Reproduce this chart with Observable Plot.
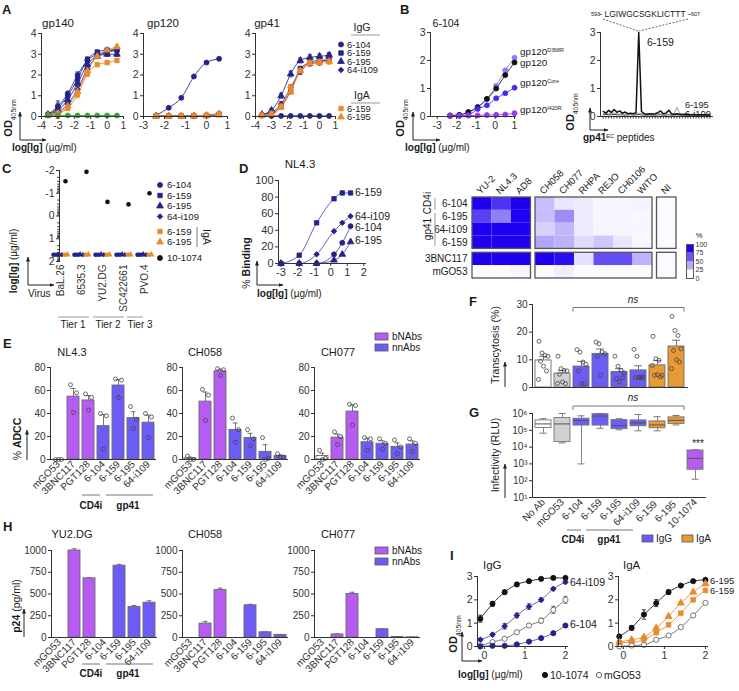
<!DOCTYPE html>
<html><head><meta charset="utf-8">
<script src="https://cdn.jsdelivr.net/npm/d3@7"></script>
<script src="https://cdn.jsdelivr.net/npm/@observablehq/plot@0.6"></script>
<style>
body{margin:0;background:#fff;}
#root{position:relative;width:739px;height:691px;overflow:hidden;background:#fff;font-family:"Liberation Sans",Arial,sans-serif;}
#root svg{overflow:visible;}
</style></head><body><div id="root"></div>
<script>
const FONT='"Liberation Sans", Arial, Helvetica, sans-serif';
const NAVY="#23238c", ORANGE="#ea8a2c", GREEN="#3f9d3f", PURPLE="#b65cf3", BLUE="#6c5cf6", LGRAY="#d0d0d0", AX="#333", TXT="#1a1a1a";
const root=document.getElementById("root");
const fmt=d=>String(d);

// ================= DATA =================
// Panel A (ELISA, OD405nm vs log[Ig])
const A_x = [-3.6,-3.0,-2.4,-1.8,-1.2,-0.6,0,0.6];
const A_x120 = [-2.4,-1.8,-1.2,-0.6,0,0.6];
const A_mAbs = ["6-104","6-159","6-195","64-i109","6-159","6-195"];
const A_gp140 = [
 [0.10,0.50,1.10,2.00,2.70,3.00,3.10,3.20],
 [0.10,0.40,1.00,1.80,2.75,3.10,3.20,3.20],
 [0.10,0.30,0.80,1.60,2.50,2.90,3.00,3.00],
 [0.05,0.20,0.60,1.30,2.30,2.90,3.10,3.30],
 [0.05,0.15,0.40,1.05,2.05,2.50,2.60,2.70],
 [0.05,0.15,0.50,1.20,2.20,2.90,3.20,3.35],
 [0.05,0.05,0.05,0.05,0.05,0.05,0.05,0.05]];
const A_gp140_err = [0.05,0.25,0.12,0.15,0.12,0.10,0.10,0.10];
const A_gp120 = [
 [0.05,0.42,0.90,1.93,2.60,2.78],
 [0.02,0.02,0.03,0.03,0.05,0.10],
 [0.02,0.02,0.02,0.03,0.04,0.08],
 [0.02,0.02,0.03,0.04,0.06,0.15],
 [0.02,0.02,0.02,0.03,0.05,0.12],
 [0.02,0.02,0.02,0.03,0.05,0.10]];
const A_gp41 = [
 [0.05,0.03,0.03,0.03,0.03,0.03,0.03,0.03],
 [0.05,0.15,0.50,1.25,2.30,2.60,2.70,2.70],
 [0.10,0.30,1.00,2.05,2.70,2.85,2.90,2.95],
 [0.10,0.20,0.60,1.40,2.15,2.55,2.60,2.95],
 [0.05,0.15,0.50,1.40,2.20,2.60,2.65,2.65],
 [0.05,0.10,0.45,1.20,2.20,2.55,2.60,2.65]];
const A_gp41_err = [0.05,0.08,0.12,0.14,0.12,0.12,0.12,0.12];

// Panel B
const B_x = [-2.34,-1.86,-1.39,-0.91,-0.43,0.05,0.52,1.0];
const B_antigens = ["gp120 D368R","gp120","gp120 Core","gp120 I420R"];
const B_OD = [
 [0.03,0.05,0.15,0.35,0.62,1.10,1.65,2.10],
 [0.04,0.06,0.16,0.33,0.63,1.00,1.48,1.93],
 [0.02,0.03,0.05,0.27,0.40,0.65,0.83,1.03],
 [0.02,0.02,0.03,0.04,0.05,0.06,0.07,0.12]];
const PEP_6159 = [0.18,0.12,0.22,0.14,0.25,0.15,0.20,0.12,0.16,0.10,0.12,0.10,0.14,3.00,0.18,0.10,0.08,0.10,0.09,0.10,0.14,0.20,0.10,0.12,0.22,0.10,0.08,0.10,0.08,0.07,0.08,0.07,0.06,0.07,0.06,0.06,0.06,0.06,0.05,0.05];
const PEP_6195 = [0.10,0.12,0.10,0.10,0.12,0.10,0.08,0.10,0.08,0.08,0.09,0.10,0.10,0.12,0.10,0.08,0.08,0.08,0.08,0.09,0.10,0.10,0.08,0.08,0.08,0.08,0.12,0.32,0.12,0.08,0.08,0.08,0.07,0.07,0.07,0.07,0.07,0.07,0.07,0.07];
const PEP_6i109 = [0.06,0.07,0.06,0.06,0.07,0.06,0.06,0.06,0.05,0.06,0.06,0.05,0.06,0.07,0.06,0.05,0.05,0.06,0.05,0.05,0.06,0.06,0.05,0.05,0.06,0.05,0.05,0.06,0.05,0.05,0.05,0.05,0.05,0.05,0.05,0.05,0.05,0.05,0.05,0.05];

// Panel C (IC50, log µg/ml)
const C_virus = ["BaL.26","6535.3","YU2.DG","SC422661","PVO.4"];
const C_IC50 = [
 [1.7,1.7,1.7,1.7,1.7],[1.7,1.7,1.7,1.7,1.7],[1.7,1.7,1.7,1.7,1.7],
 [1.7,1.7,1.7,1.7,1.7],[1.7,1.7,1.7,1.7,1.7],[1.7,1.7,1.7,1.7,1.7]];
const C_10_1074 = [-1.53,-1.94,-0.62,-0.51,-1.0];

// Panel D
const D_x = [-3.0,-1.9,-0.85,0.2,0.7,1.2];
const D_mAbs = ["6-159","64-i109","6-104","6-195"];
const D_binding = [
 [0,10,49,78,85,85],
 [0,0,11,39,49,57],
 [0,0,0,11,25,45],
 [0,0,0,4,11,26]];
const HM_cols = ["YU-2","NL4.3","AD8","CH058","CH077","RHPA","REJO","CH0106","WITO","NI"];
const HM_colGroup = [0,0,0,1,1,1,1,1,1,2];
const HM_rows = ["6-104","6-195","64-i109","6-159","3BNC117","mGO53"];
const HM_rowGroup = [0,0,0,0,1,1];
const HM_vals = [
 [100,80,100,25,10,8,3,3,5,2],
 [75,50,100,25,45,8,3,3,3,2],
 [100,100,100,18,28,8,4,4,3,2],
 [100,100,100,35,30,14,22,10,3,2],
 [100,100,100,100,95,12,70,70,30,2],
 [2,2,4,2,7,2,2,2,2,2]];

// Panel E (% ADCC, 3 replicates)
const E_ab = ["mGO53","3BNC117","PGT128","6-104","6-159","6-195","64-i109"];
const E_type = ["ctrl","bNAb","bNAb","nnAb","nnAb","nnAb","nnAb"];
const E_NL43 = [[0,0,0],[65,58,41],[57,54,43],[40,38,9],[70,69,54],[46,35,27],[40,37,19]];
const E_CH058 = [[3,0,0],[61,56,34],[79,78,73],[36,26,15],[26,18,12],[19,1,0],[5,2,2]];
const E_CH077 = [[8,1,0],[24,20,13],[48,47,30],[19,18,8],[18,14,9],[17,11,5],[18,14,7]];

// Panel H (p24 pg/ml, mean and error)
const H_YU2 = [0,1000,680,0,825,350,400];
const H_YU2_err = [0,20,6,0,15,18,22];
const H_CH058 = [0,160,545,0,370,60,30];
const H_CH058_err = [0,25,22,0,12,5,4];
const H_CH077 = [0,35,500,0,95,6,2];
const H_CH077_err = [0,8,20,0,6,2,1];

// Panel F (transcytosis %) and G (infectivity, log10 RLU box stats)
const FG_cats = ["No Ab","mGO53","6-104","6-159","6-195","64-i109","6-159 ","6-195 ","10-1074"];
const FG_iso = ["none","ctrl","IgG","IgG","IgG","IgG","IgA","IgA","bNAb"];
const F_pts = [
 [16.7,12.5,11.6,11.3,9.5,7.7,6.0,2.9],
 [11.3,6.8,6.2,6.0,4.8,2.0,1.4,1.5],
 [13.7,12.8,9.2,8.4,6.0,1.4,1.4],
 [16.4,15.8,12.8,12.2,11.3,4.4],
 [11.3,7.7,6.2,5.3,3.2,2.0,3.5],
 [13.8,11.3,3.8,3.8,3.6,3.6,3.4],
 [18.5,10.4,9.8,4.4,4.4,4.6,3.8,8.0],
 [25.7,20.6,18.8,14.0,13.4,10.0,9.2,6.8]];
const G_box = [ // [min, q1, median, q3, max] in log10 RLU
 [4.83,5.14,5.38,5.59,5.69],
 [4.25,4.30,5.38,5.73,6.00],
 [3.00,5.28,5.59,5.69,5.86],
 [5.12,5.28,5.85,5.96,6.00],
 [5.03,5.07,5.28,5.61,5.69],
 [4.97,5.24,5.44,5.59,5.94],
 [4.97,5.12,5.32,5.53,5.81],
 [5.32,5.38,5.59,5.77,5.88],
 [2.09,2.65,3.33,3.80,3.84]];

// Panel I
const I_x = [-0.1,0.2,0.5,0.8,1.1,1.4,1.7,2.0];
const I_IgG_names = ["10-1074","64-i109","mGO53","6-104"];
const I_IgG = [
 [1.19,1.83,2.33,2.66,2.80,2.90,2.94,2.94],
 [0.29,0.51,0.87,1.33,1.71,2.00,2.47,2.76],
 [0.04,0.19,0.33,0.61,0.90,1.11,1.57,2.00],
 [0.00,0.03,0.03,0.09,0.21,0.36,0.57,0.90]];
const I_IgG_err = [
 [0.15,0.10,0.08,0.05,0.04,0.04,0.04,0.04],
 [0.05,0.06,0.12,0.10,0.12,0.08,0.06,0.05],
 [0.03,0.03,0.05,0.05,0.06,0.10,0.15,0.15],
 [0.02,0.02,0.02,0.02,0.03,0.03,0.04,0.04]];
const I_IgA_names = ["10-1074","6-195","6-159","mGO53"];
const I_IgA = [
 [0.43,0.80,1.37,1.86,2.33,2.61,2.80,2.86],
 [0.19,0.29,0.40,0.79,1.29,1.86,2.33,2.69],
 [0.17,0.17,0.30,0.59,0.93,1.43,2.00,2.40],
 [0.00,0.04,0.07,0.29,0.47,0.83,1.33,1.87]];
const I_IgA_err = [
 [0.08,0.10,0.20,0.15,0.10,0.05,0.05,0.05],
 [0.04,0.05,0.05,0.06,0.06,0.06,0.06,0.06],
 [0.04,0.04,0.04,0.05,0.05,0.06,0.06,0.06],
 [0.03,0.03,0.03,0.03,0.04,0.05,0.05,0.05]];

// ================= HELPERS =================
const FILL = {none:"#ffffff", ctrl:"#ffffff", bNAb:PURPLE, nnAb:BLUE, IgG:BLUE, IgA:"#e89a35"};
const FG_fill = {none:"#ffffff", ctrl:LGRAY, IgG:BLUE, IgA:"#e89a35", bNAb:PURPLE};
const CAP = {draw(ctx,size){const w=Math.sqrt(size)/1.7; ctx.moveTo(-w,0); ctx.lineTo(w,0);}};

function mk(b,o){
  const ml=b.ml??24, mr=b.mr??6, mt=b.mt??6, mb=b.mb??18;
  const p=Plot.plot(Object.assign({
    width:ml+(b.x1-b.x0)+mr, height:mt+(b.y1-b.y0)+mb,
    marginLeft:ml, marginRight:mr, marginTop:mt, marginBottom:mb,
    style:{fontFamily:FONT,fontSize:"10px",background:"transparent",overflow:"visible",color:TXT}
  },o));
  p.style.position="absolute"; p.style.left=(b.x0-ml)+"px"; p.style.top=(b.y0-mt)+"px";
  root.appendChild(p); return p;
}
function ax(o={}){
  const fs=o.fs??10, m=[];
  if(o.y!==false) m.push(Plot.axisY({ticks:o.yt, tickFormat:o.yf??fmt, tickSize:o.ys??3, tickPadding:2, label:null, fontSize:fs, color:AX}));
  if(o.x!==false) m.push(Plot.axisX({ticks:o.xt, tickFormat:o.xf??fmt, tickSize:o.xs??3, tickPadding:o.xpad??2, label:null, tickRotate:o.xrot??0, fontSize:fs, color:AX}));
  if(o.fl!==false) m.push(Plot.frame({anchor:"left", stroke:AX}));
  if(o.fb!==false) m.push(Plot.frame({anchor:"bottom", stroke:AX}));
  return m;
}
function curvePanel(c){
  const recs=[];
  c.rows.forEach((vals,i)=>vals.forEach((v,j)=>{
    const e = c.errs ? (Array.isArray(c.errs[0]) ? c.errs[i][j] : c.errs[j]) : 0;
    recs.push({x:c.xs[j], y:v, k:i, c:c.colors[i], lc:(c.lineColors||c.colors)[i], f:(c.fills||c.colors)[i], s:c.syms[i], e});
  }));
  const eb=recs.filter(d=>d.e>0.03 && d.y>0.08);
  return mk(c.box,{
    x:{domain:c.xdom}, y:{domain:c.ydom},
    marks:[
      Plot.line(recs,{x:"x",y:"y",z:"k",stroke:"lc",strokeWidth:1,strokeOpacity:0.85,curve:"monotone-x"}),
      Plot.ruleX(eb,{x:"x",y1:d=>d.y-d.e,y2:d=>d.y+d.e,stroke:"c",strokeWidth:0.8}),
      Plot.dot(eb,{x:"x",y:d=>d.y+d.e,symbol:CAP,stroke:"c",r:2,strokeWidth:0.8}),
      Plot.dot(eb,{x:"x",y:d=>d.y-d.e,symbol:CAP,stroke:"c",r:2,strokeWidth:0.8}),
      Plot.dot(recs,{x:"x",y:"y",symbol:"s",fill:"f",stroke:"c",r:c.r??2.5,strokeWidth:0.8}),
      ...ax({xt:c.xt, yt:c.yt, fs:c.fs??10.5})
    ]});
}
function barPanel(c){
  const recs=c.names.map((k,i)=>({k,
    m: c.means ? c.means[i] : d3.mean(c.pts[i]),
    e: c.errs ? c.errs[i] : d3.deviation(c.pts[i])/Math.sqrt(c.pts[i].length),
    f: c.fillMap[c.types[i]]}));
  const prec = c.pts ? c.pts.flatMap((a,i)=>a.map((v,r)=>({k:c.names[i],v,r}))) : [];
  const nrep = c.pts ? d3.max(c.pts,a=>a.length) : 0;
  const eb=recs.filter(d=>d.e>0);
  const showX = c.xaxis!==false;
  return mk(c.box,{
    x:{domain:c.domain||c.names, paddingInner:c.pi??0.2, paddingOuter:0.1, axis: showX ? undefined : null},
    y:{domain:c.ydom},
    marks:[
      Plot.ruleX(eb,{x:"k",y1:"m",y2:d=>d.m+d.e,stroke:"#666",strokeWidth:0.9}),
      Plot.tickY(eb,{x:"k",y:d=>d.m+d.e,stroke:"#666",strokeWidth:0.9,inset:c.capInset??3.5}),
      Plot.barY(recs,{x:"k",y:"m",fill:"f",stroke:"#6a6a6a",strokeWidth:0.9}),
      ...d3.range(nrep).map(r=>Plot.dot(prec.filter(p=>p.r===r),{x:"k",y:"v",dx:c.dxs[r],r:2,stroke:"#444",strokeWidth:0.8,fill:"none"})),
      ...ax({yt:c.yt, fs:c.fs??10, xrot:c.xrot??-45, xs:0, xpad:3, x:showX})
    ]});
}

// ================= PANEL A =================
const A_colors=[NAVY,NAVY,NAVY,NAVY,ORANGE,ORANGE,GREEN];
const A_syms=["circle","square","triangle","diamond2","square","triangle","circle"];
curvePanel({box:{x0:41,x1:123,y0:33,y1:116}, xs:A_x, rows:A_gp140, errs:A_gp140_err, colors:A_colors, syms:A_syms, xdom:[-4,1], ydom:[0,4], xt:[-4,-3,-2,-1,0,1], yt:[0,1,2,3,4]});
curvePanel({box:{x0:143,x1:227,y0:33,y1:116}, xs:A_x120, rows:A_gp120, colors:A_colors, syms:A_syms, xdom:[-3,1], ydom:[0,4], xt:[-3,-2,-1,0,1], yt:[0,1,2,3,4]});
curvePanel({box:{x0:255,x1:335,y0:33,y1:116}, xs:A_x, rows:A_gp41, errs:A_gp41_err, colors:A_colors, syms:A_syms, xdom:[-4,1], ydom:[0,4], xt:[-4,-3,-2,-1,0,1], yt:[0,1,2,3,4]});

// ================= PANEL B =================
const B_colors=["#8a7dff","#111111","#3b2df2","#9a34f0"];
curvePanel({box:{x0:430,x1:515,y0:32,y1:116}, xs:B_x, rows:B_OD, colors:B_colors, syms:["circle","circle","circle","circle"], xdom:[-3.35,1.05], ydom:[0,3], xt:[-3,-2,-1,0,1], yt:[0,1,2,3]});
{
  const idx=d3.range(1,PEP_6159.length+1);
  const rec=(arr,k)=>arr.map((v,i)=>({x:idx[i],y:v,k}));
  mk({x0:600,x1:712,y0:32,y1:116},{
    x:{domain:[0,41]}, y:{domain:[0,3]},
    marks:[
      Plot.line(rec(PEP_6i109,"6-i109"),{x:"x",y:"y",stroke:"#333",strokeWidth:1}),
      Plot.line(rec(PEP_6195,"6-195"),{x:"x",y:"y",stroke:"#9a9a9a",strokeWidth:1}),
      Plot.line(rec(PEP_6159,"6-159"),{x:"x",y:"y",stroke:"#111",strokeWidth:1.5}),
      Plot.axisY({ticks:[0,1,2,3],tickFormat:fmt,tickSize:3,tickPadding:2,label:null,fontSize:10.5,color:AX}),
      Plot.axisX({ticks:idx,tickSize:2.5,tickFormat:()=>"",label:null,color:AX}),
      Plot.frame({anchor:"left",stroke:AX}), Plot.frame({anchor:"bottom",stroke:AX})
    ]});
}

// ================= PANEL C =================
{
  const CDX=[-7,-4.2,-1.4,1.4,4.2,7];
  const minor=d3.range(-2,2).flatMap(k=>d3.range(2,10).map(m=>k+Math.log10(m)));
  mk({x0:59,x1:145,y0:170,y1:261,mb:60,ml:24},{
    x:{domain:C_virus,padding:0}, y:{domain:[2,-2]},
    marks:[
      ...C_IC50.map((row,i)=>Plot.dot(C_virus,{x:d=>d,y:(d,j)=>row[j],dx:CDX[i],symbol:A_syms[i],fill:A_colors[i],r:2.3})),
      Plot.dot(C_virus,{x:d=>d,y:(d,j)=>C_10_1074[j],dx:5,fill:"#111",r:2.3}),
      Plot.axisY({ticks:[-2,-1,0,1,2],tickFormat:fmt,tickSize:3,tickPadding:2,label:null,fontSize:10.5,color:AX}),
      Plot.axisY({ticks:minor,tickSize:1.8,tickFormat:()=>"",label:null,color:AX}),
      Plot.axisX({tickSize:0,tickPadding:3,tickRotate:-90,label:null,fontSize:10,color:AX}),
      Plot.frame({anchor:"left",stroke:AX})
    ]});
}

// ================= PANEL D =================
curvePanel({box:{x0:278,x1:365,y0:180,y1:263}, xs:D_x, rows:D_binding, colors:[NAVY,NAVY,NAVY,NAVY], lineColors:["#4a4aa8","#4a4aa8","#4a4aa8","#4a4aa8"], syms:["square","diamond2","circle","triangle"], xdom:[-3.15,2.1], ydom:[0,100], xt:[-3,-2,-1,0,1,2], yt:[0,20,40,60,80,100], fs:11});
{
  const cx=j=>j+HM_colGroup[j]*0.23, ry=i=>i+HM_rowGroup[i]*0.3;
  const cells=HM_vals.flatMap((row,i)=>row.map((v,j)=>({x1:cx(j),x2:cx(j)+1,y1:ry(i),y2:ry(i)+1,v})));
  const frames=[];
  for(const rg of [0,1]) for(const cg of [0,1,2]){
    const cs=HM_cols.map((_,j)=>j).filter(j=>HM_colGroup[j]===cg), rs=HM_rows.map((_,i)=>i).filter(i=>HM_rowGroup[i]===rg);
    frames.push({x1:cx(cs[0]),x2:cx(cs[cs.length-1])+1,y1:ry(rs[0]),y2:ry(rs[rs.length-1])+1});
  }
  const color={type:"linear",domain:[0,100],range:["#ffffff","#2000f0"]};
  mk({x0:472,x1:676,y0:197,y1:278,ml:60,mt:45,mb:4,mr:4},{
    x:{domain:[0,10.46],axis:null}, y:{domain:[0,6.3],reverse:true,axis:null}, color,
    marks:[
      Plot.rect(cells,{x1:"x1",x2:"x2",y1:"y1",y2:"y2",fill:"v"}),
      Plot.rect(frames,{x1:"x1",x2:"x2",y1:"y1",y2:"y2",fill:"none",stroke:"#555",strokeWidth:1.3}),
      Plot.text(HM_rows,{x:0,y:(d,i)=>ry(i)+0.5,text:d=>d,textAnchor:"end",dx:-5,fontSize:10,fill:TXT}),
      Plot.text(HM_cols,{x:(d,j)=>cx(j)+0.5,y:0,text:d=>d,rotate:-45,textAnchor:"start",dx:-4,dy:-5,fontSize:9.5,fill:TXT})
    ]});
  const steps=[0,25,50,75];
  mk({x0:686,x1:693,y0:244,y1:278,ml:2,mr:22,mt:2,mb:2},{
    x:{domain:[0,1],axis:null}, y:{domain:[0,100]}, color,
    marks:[
      Plot.rect(steps,{x1:0,x2:1,y1:d=>d,y2:d=>d+25,fill:d=>d*4/3}),
      Plot.axisY({anchor:"right",ticks:[0,25,50,75,100],tickFormat:fmt,tickSize:0,tickPadding:2,fontSize:7,label:null,color:AX}),
      Plot.frame({stroke:"#555"})
    ]});
}

// ================= PANEL E =================
const DX3=[-3,3,0];
[[E_NL43,50],[E_CH058,182],[E_CH077,314]].forEach(([pts,x0])=>
  barPanel({box:{x0,x1:x0+105,y0:367,y1:459,mb:50}, names:E_ab, types:E_type, pts, fillMap:FILL, ydom:[0,80], yt:[0,20,40,60,80], dxs:DX3}));

// ================= PANEL H =================
[[H_YU2,H_YU2_err,51],[H_CH058,H_CH058_err,182],[H_CH077,H_CH077_err,314]].forEach(([means,errs,x0])=>
  barPanel({box:{x0,x1:x0+105,y0:550,y1:637,mb:50}, names:E_ab, types:E_type, means, errs, fillMap:FILL, ydom:[0,1000], yt:[0,250,500,750,1000], dxs:[]}));

// ================= PANEL F =================
barPanel({box:{x0:532,x1:687,y0:304,y1:387,mb:6}, names:FG_cats.slice(0,8), types:FG_iso.slice(0,8), pts:F_pts, fillMap:FG_fill, ydom:[0,30], yt:[0,10,20,30], dxs:[-4.5,-1.5,1.5,4.5,-3,0,3,-5], pi:0.17, capInset:4, xaxis:false, fs:10});

// ================= PANEL G =================
{
  const recs=FG_cats.map((k,i)=>({k,lo:10**G_box[i][0],q1:10**G_box[i][1],med:10**G_box[i][2],q3:10**G_box[i][3],hi:10**G_box[i][4],f:FG_fill[FG_iso[i]]}));
  const supd={"1":"¹","2":"²","3":"³","4":"⁴","5":"⁵","6":"⁶"};
  mk({x0:532,x1:705,y0:413,y1:497,mb:50},{
    x:{domain:FG_cats,paddingInner:0.17,paddingOuter:0.1}, y:{type:"log",domain:[10,1e6]},
    marks:[
      Plot.ruleX(recs,{x:"k",y1:"lo",y2:"hi",stroke:"#777",strokeWidth:0.9}),
      Plot.tickY(recs,{x:"k",y:"lo",stroke:"#777",inset:4.5}),
      Plot.tickY(recs,{x:"k",y:"hi",stroke:"#777",inset:4.5}),
      Plot.barY(recs,{x:"k",y1:"q1",y2:"q3",fill:"f",stroke:"#777",strokeWidth:0.9}),
      Plot.tickY(recs,{x:"k",y:"med",stroke:"#555",strokeWidth:1}),
      Plot.axisY({ticks:[1e1,1e2,1e3,1e4,1e5,1e6],tickFormat:d=>"10"+supd[String(Math.round(Math.log10(d)))],tickSize:3,tickPadding:2,label:null,fontSize:10,color:AX}),
      Plot.axisX({tickSize:0,tickPadding:3,tickRotate:-45,label:null,fontSize:10,color:AX}),
      Plot.frame({anchor:"left",stroke:AX}), Plot.frame({anchor:"bottom",stroke:AX})
    ]});
}

// ================= PANEL I =================
curvePanel({box:{x0:477,x1:567,y0:576,y1:646}, xs:I_x, rows:I_IgG, errs:I_IgG_err, colors:["#111",NAVY,"#555",NAVY], fills:["#111",NAVY,"#fff",NAVY], lineColors:["#111","#4a4aa8","#666","#4a4aa8"], syms:["circle","diamond2","circle","circle"], xdom:[-0.17,2.05], ydom:[0,3], xt:[0,1,2], yt:[0,1,2,3], fs:10.5, r:2.6});
curvePanel({box:{x0:618,x1:707,y0:576,y1:646}, xs:I_x, rows:I_IgA, errs:I_IgA_err, colors:["#111",ORANGE,ORANGE,"#555"], fills:["#111",ORANGE,ORANGE,"#fff"], lineColors:["#111",ORANGE,ORANGE,"#666"], syms:["circle","triangle","square","circle"], xdom:[-0.12,2.05], ydom:[0,3], xt:[0,1,2], yt:[0,1,2,3], fs:10.5, r:2.6});

// ================= ANNOTATIONS =================
const ov=d3.select(root).append("svg").attr("width",739).attr("height",691)
  .style("position","absolute").style("left","0px").style("top","0px").style("pointer-events","none");
ov.append("defs").append("marker").attr("id","ah").attr("viewBox","0 0 10 10").attr("refX",9).attr("refY",5)
  .attr("markerWidth",5).attr("markerHeight",5).attr("orient","auto")
  .append("path").attr("d","M0,1L10,5L0,9z").attr("fill","#222");
function RT(x,y,parts,o={}){
  const size=o.size||10;
  const t=ov.append("text").attr("x",x).attr("y",y).attr("font-family",FONT).attr("font-size",size)
    .attr("fill",o.fill||TXT).attr("text-anchor",o.anchor||"start");
  if(o.rot) t.attr("transform",`rotate(${o.rot},${x},${y})`);
  if(o.b) t.attr("font-weight","bold");
  if(o.i) t.attr("font-style","italic");
  if(typeof parts==="string") parts=[[parts]];
  for(const [s,p={}] of parts){
    const ts=t.append("tspan").text(s);
    if(p.b) ts.attr("font-weight","bold");
    if(p.sub) ts.attr("baseline-shift","sub").attr("font-size",size*0.62);
    if(p.sup) ts.attr("baseline-shift","super").attr("font-size",size*0.55);
  }
  return t;
}
function AR(x1,y1,x2,y2){ov.append("line").attr("x1",x1).attr("y1",y1).attr("x2",x2).attr("y2",y2).attr("stroke","#222").attr("stroke-width",1).attr("marker-end","url(#ah)");}
function LN(x1,y1,x2,y2,o={}){const l=ov.append("line").attr("x1",x1).attr("y1",y1).attr("x2",x2).attr("y2",y2).attr("stroke",o.stroke||"#777").attr("stroke-width",o.w||1); if(o.dash) l.attr("stroke-dasharray",o.dash);}
function SY(x,y,type,fill,stroke,size=20){ov.append("path").attr("d",d3.symbol(type,size)()).attr("transform",`translate(${x},${y})`).attr("fill",fill).attr("stroke",stroke||fill).attr("stroke-width",0.8);}
function BX(x,y,w,h,fill){ov.append("rect").attr("x",x).attr("y",y).attr("width",w).attr("height",h).attr("fill",fill).attr("stroke","#555").attr("stroke-width",0.8);}
function ODlabel(x,y){RT(x,y,[["OD",{b:true}],["405nm",{sub:true}]],{rot:-90,anchor:"middle",size:11});}
function logIg(x,y){RT(x,y,[["log[Ig]",{b:true}],[" (µg/ml)"]],{size:10});}

// panel letters
[["A",2,14],["B",400,14],["C",2,173],["D",239,173],["E",3,348],["F",469,306],["G",469,417],["H",3,531],["I",450,560]]
  .forEach(([s,x,y])=>RT(x,y,s,{b:true,size:13}));

// A
[["gp140",58],["gp120",163],["gp41",267]].forEach(([s,x])=>RT(x,27,s,{anchor:"middle",size:11.5}));
RT(362,31,"IgG",{anchor:"middle",size:10.5}); LN(351,35,380,35,{stroke:"#999"});
A_mAbs.slice(0,4).forEach((s,i)=>{const y=[44.5,53,61.5,70][i]; SY(341,y,[d3.symbolCircle,d3.symbolSquare,d3.symbolTriangle,d3.symbolDiamond2][i],NAVY); RT(347,y+3.3,s,{size:9.3});});
RT(362,99,"IgA",{anchor:"middle",size:10.5}); LN(351,103,380,103,{stroke:"#999"});
A_mAbs.slice(4).forEach((s,i)=>{const y=[108.5,117][i]; SY(341,y,[d3.symbolSquare,d3.symbolTriangle][i],ORANGE); RT(347,y+3.3,s,{size:9.3});});
ODlabel(12,118); AR(20,140,20,112); AR(20,140,46,140); logIg(12,151);

// B
RT(446,27,"6-104",{anchor:"middle",size:10.5});
RT(520,55,[["gp120"],["D368R",{sup:true}]],{size:9.8});
RT(520,66,"gp120",{size:9.8});
RT(520,86,[["gp120"],["Core",{sup:true}]],{size:9.8});
RT(520,113,[["gp120"],["I420R",{sup:true}]],{size:9.8});
ODlabel(404,118); AR(413,140,413,112); AR(413,140,440,140); logIg(405,151);
RT(647,46,"6-159",{size:10.5}); RT(685,108,"6-195",{size:9.3}); RT(685,117,"6-i109",{size:9.3});
RT(591,16,"593",{size:5.5}); RT(645,17,"- LGIWGCSGKLICTTT -",{anchor:"middle",size:8.5}); RT(691,16,"607",{size:5.5});
LN(603,19,638,31,{stroke:"#444",dash:"2,1.5",w:0.8}); LN(688,19,639,31,{stroke:"#444",dash:"2,1.5",w:0.8});
ODlabel(574,112); AR(590,130,590,108); AR(590,130,608,130);
RT(583,141,[["gp41",{b:true}],["EC",{sup:true}],[" peptides"]],{size:10});

// C
const Csy=[d3.symbolCircle,d3.symbolSquare,d3.symbolTriangle,d3.symbolDiamond2,d3.symbolSquare,d3.symbolTriangle];
const Cleg=["6-104","6-159","6-195","64-i109","6-159","6-195"];
[185,195.5,206,216.5,231.5,242].forEach((y,i)=>{SY(160,y,Csy[i],A_colors[i]); RT(167,y+3.4,Cleg[i],{size:9.6});});
SY(160,258,d3.symbolCircle,"#111"); RT(167,261.4,"10-1074",{size:9.6});
LN(197,227,197,247,{stroke:"#777"}); RT(203,237,"IgA",{rot:90,anchor:"middle",size:10.5});
RT(17,261,[["log[Ig]",{b:true}],[" (µg/ml)"]],{rot:-90,anchor:"middle",size:10});
AR(28,285,28,257); AR(28,285,54,285); RT(28,297,"Virus",{size:10});
LN(58,317,89,317,{stroke:"#aaa",w:1.2}); LN(93,317,124,317,{stroke:"#aaa",w:1.2}); LN(127,317,143,317,{stroke:"#aaa",w:1.2});
RT(73,328,"Tier 1",{anchor:"middle"}); RT(108,328,"Tier 2",{anchor:"middle"}); RT(140,328,"Tier 3",{anchor:"middle"});

// D
RT(300,168,"NL4.3",{anchor:"middle",size:11.5});
D_mAbs.forEach((s,i)=>RT(355,[195.5,219.5,230.5,243.5][i],s,{size:10.5}));
RT(250,263,[["% "],["Binding",{b:true}]],{rot:-90,anchor:"middle",size:10.5});
AR(257,285,257,261); AR(257,285,283,285); logIg(257,297);
RT(431,203,"CD4i",{rot:-90,anchor:"middle",size:10}); RT(431,229,"gp41",{rot:-90,anchor:"middle",size:10});
LN(435,198,435,210,{stroke:"#999"}); LN(435,213,435,246,{stroke:"#999"});
RT(699,238,"%",{anchor:"middle",size:7.5});

// E
[["NL4.3",72],["CH058",205],["CH077",338]].forEach(([s,x])=>RT(x,356,s,{anchor:"middle",size:11}));
RT(21,439,[["% "],["ADCC",{b:true}]],{rot:-90,anchor:"middle",size:10.5}); AR(27,460,27,430);
BX(375,333,13,7,PURPLE); RT(392,340,"bNAbs"); BX(375,344,13,7,BLUE); RT(392,351,"nnAbs");
LN(82,495,100,495); LN(106,495,153,495);
RT(91,509,"CD4i",{anchor:"middle",b:true}); RT(128,509,"gp41",{anchor:"middle",b:true});

// H
[["YU2.DG",72],["CH058",205],["CH077",338]].forEach(([s,x])=>RT(x,538,s,{anchor:"middle",size:11}));
RT(20,606,[["p24",{b:true}],[" (pg/ml)"]],{rot:-90,anchor:"middle",size:10.5}); AR(24,637,24,609);
BX(375,547,13,7,PURPLE); RT(392,554,"bNAbs"); BX(375,558,13,7,BLUE); RT(392,565,"nnAbs");
LN(82,664,100,664); LN(106,664,153,664);
RT(91,677,"CD4i",{anchor:"middle",b:true}); RT(128,677,"gp41",{anchor:"middle",b:true});

// F
RT(499,345,"Transcytosis (%)",{rot:-90,anchor:"middle",size:10.5}); AR(505,387,505,362);
LN(573,307.5,684,307.5,{stroke:"#777"}); LN(573,307.5,573,311.5,{stroke:"#777"}); LN(684,307.5,684,311.5,{stroke:"#777"});
RT(633,303,"ns",{anchor:"middle",i:true});

// G
RT(499,455,"Infectivity (RLU)",{rot:-90,anchor:"middle",size:10.5}); AR(505,498,505,464);
LN(573,406,684,406,{stroke:"#777"}); LN(573,406,573,410,{stroke:"#777"}); LN(684,406,684,410,{stroke:"#777"});
RT(633,401,"ns",{anchor:"middle",i:true});
RT(698,447,"***",{anchor:"middle",size:10});
LN(567,530,581,530); LN(586,530,633,530);
RT(573,543,"CD4i",{anchor:"middle",b:true}); RT(609,543,"gp41",{anchor:"middle",b:true});
BX(642,535,11,7,BLUE); RT(656,542,"IgG"); BX(682,535,11,7,"#e89a35"); RT(696,542,"IgA");

// I
RT(483,569,"IgG",{size:11.5}); RT(623,569,"IgA",{size:11.5});
RT(570,586,"64-i109",{size:10.5}); RT(570,628,"6-104",{size:10.5});
RT(710,584,"6-195",{size:9.5}); RT(710,594,"6-159",{size:9.5});
ODlabel(457,634); AR(462,661,462,632); AR(462,661,482,661); logIg(458,678);
SY(545,675,d3.symbolCircle,"#111","#111",22); RT(550,679,"10-1074",{size:10.5});
SY(599,675,d3.symbolCircle,"#fff","#444",22); RT(604,679,"mGO53",{size:10.5});
</script></body></html>
